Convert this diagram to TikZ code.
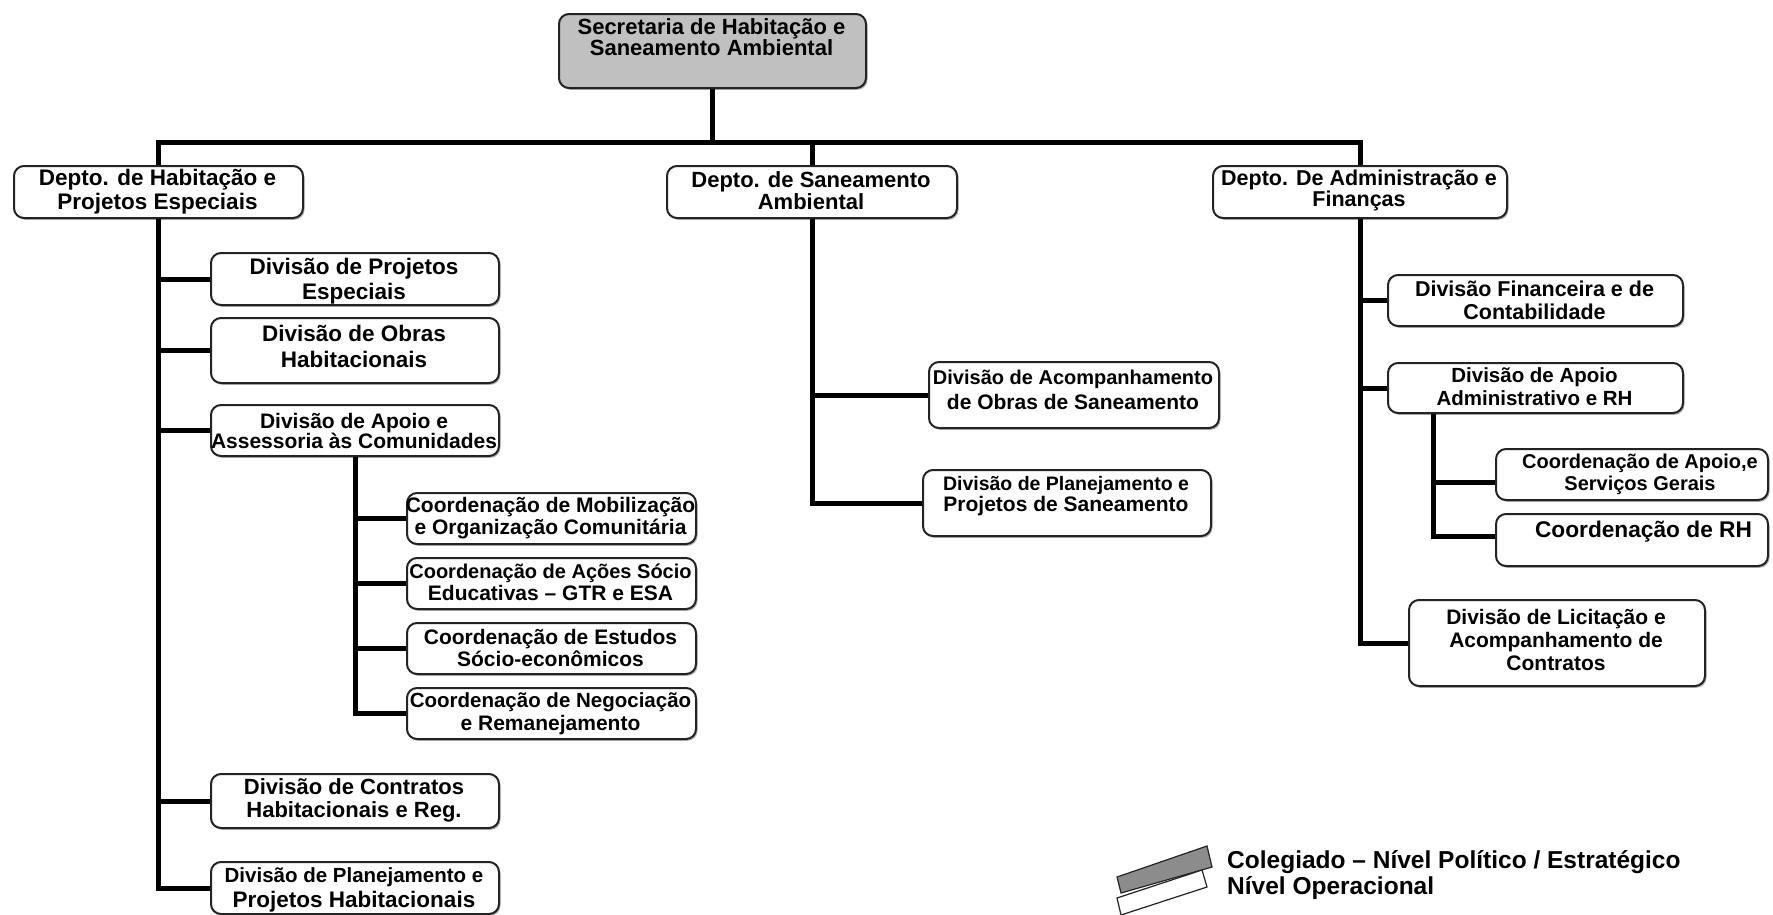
\documentclass[tikz,border=0pt]{standalone}
\usepackage{fontspec}
\setmainfont{Liberation Sans}
\usetikzlibrary{shadows,calc,backgrounds}
\definecolor{topgray}{RGB}{192,192,192}
\definecolor{leggray}{RGB}{140,140,140}
\definecolor{edgec}{RGB}{35,35,35}
\tikzset{
  box/.style={draw=edgec, line width=2pt, rounded corners=10pt, fill=white,
    inner sep=0pt, anchor=north west,
    drop shadow={shadow xshift=1.5pt, shadow yshift=-1.8pt, fill=black, opacity=0.3}},
  conn/.style={line width=5pt, draw=black},
  fs/.style 2 args={font=\bfseries\fontsize{#1}{#2}\selectfont},
  txt/.style={align=center, inner sep=0pt, text=black},
  legshape/.style={draw=edgec, line width=1.2pt},
}
\begin{document}
\begin{tikzpicture}[x=1pt, y=-1pt]
\useasboundingbox (0,0) rectangle (1773,914);

% ---------- boxes ----------
\node[box, fill=topgray, minimum width=307pt, minimum height=74pt] (top) at (558,13) {};
\node[txt, fs={22}{21}] (t-top) at (711.5,37.5) {Secretaria de Habitação e\\Saneamento Ambiental};

\node[box, minimum width=289pt, minimum height=52pt] (dh) at (13,165) {};
\node[txt, fs={22.5}{24}] (t-dh) at (157.5,192) {Depto. de Habitação e\\Projetos Especiais};

\node[box, minimum width=290pt, minimum height=52pt] (ds) at (666,165) {};
\node[txt, fs={22}{22}] (t-ds) at (811,191) {Depto. de Saneamento\\Ambiental};

\node[box, minimum width=294pt, minimum height=52pt] (dadm) at (1212,165) {};
\node[txt, fs={21.5}{20}] (t-dadm) at (1359,190) {Depto. De Administração e\\Finanças};

% Depto Habitação children
\node[box, minimum width=288pt, minimum height=52pt] (dp) at (210,252) {};
\node[txt, fs={22.5}{25}] (t-dp) at (354,281) {Divisão de Projetos\\Especiais};

\node[box, minimum width=288pt, minimum height=65pt] (dob) at (210,317) {};
\node[txt, fs={22.5}{26}] (t-dob) at (354,346) {Divisão de Obras\\Habitacionais};

\node[box, minimum width=288pt, minimum height=51pt] (dap) at (210,404) {};
\node[txt, fs={21}{20}] (t-dap) at (354,431) {Divisão de Apoio e\\Assessoria às Comunidades};

\node[box, minimum width=288pt, minimum height=54pt] (dc) at (210,773) {};
\node[txt, fs={22}{23}] (t-dc) at (354,800.5) {Divisão de Contratos\\Habitacionais e Reg.};

\node[box, minimum width=288pt, minimum height=52pt] (dpl) at (210,861) {};
\node[txt, fs={22.5}{25}] (t-dpl) at (354,889.5) {{\fontsize{20.5}{25}\selectfont Divisão de Planejamento e}\\Projetos Habitacionais};

% Coordenações (Apoio e Assessoria)
\node[box, minimum width=289pt, minimum height=51pt] (cm) at (406,492) {};
\node[txt, fs={21}{22}] (t-cm) at (550.5,518) {Coordenação de Mobilização\\e Organização Comunitária};

\node[box, minimum width=289pt, minimum height=51pt] (ca) at (406,557) {};
\node[txt, fs={20}{22}] (t-ca) at (550.5,582) {Coordenação de Ações Sócio\\{\fontsize{21}{22}\selectfont Educativas – GTR e ESA}};

\node[box, minimum width=289pt, minimum height=51pt] (ce) at (406,622) {};
\node[txt, fs={21}{22}] (t-ce) at (550.5,648) {Coordenação de Estudos\\Sócio-econômicos};

\node[box, minimum width=289pt, minimum height=51pt] (cn) at (406,687) {};
\node[txt, fs={20.5}{23}] (t-cn) at (550.5,713.5) {Coordenação de Negociação\\{\fontsize{21}{23}\selectfont e Remanejamento}};

% Depto Saneamento children
\node[box, minimum width=290pt, minimum height=66pt] (dac) at (928,361) {};
\node[txt, fs={21}{25}] (t-dac) at (1073,389.5) {{\fontsize{20}{25}\selectfont Divisão de Acompanhamento}\\de Obras de Saneamento};

\node[box, minimum width=288pt, minimum height=66pt] (dps) at (922,469) {};
\node[txt, fs={21}{19}] (t-dps) at (1066,496) {{\fontsize{19.5}{19}\selectfont Divisão de Planejamento e}\\Projetos de Saneamento};

% Depto Administração children
\node[box, minimum width=295pt, minimum height=51pt] (dfin) at (1387,274) {};
\node[txt, fs={21.5}{23}] (t-dfin) at (1534.5,300.5) {Divisão Financeira e de\\Contabilidade};

\node[box, minimum width=295pt, minimum height=50pt] (daa) at (1387,362) {};
\node[txt, fs={20.5}{23}] (t-daa) at (1534.5,386.5) {Divisão de Apoio\\Administrativo e RH};

\node[box, minimum width=272pt, minimum height=51pt] (cs) at (1495,448) {};
\node[txt, fs={20}{22}] (t-cs) at (1640,474) {Coordenação de Apoio,e\\Serviços Gerais};

\node[box, minimum width=272pt, minimum height=52pt] (crh) at (1495,513) {};
\node[txt, fs={22.7}{24}] (t-crh) at (1643.5,532) {Coordenação de RH};

\node[box, minimum width=296pt, minimum height=86pt] (dlic) at (1408,599) {};
\node[txt, fs={21}{23}] (t-dlic) at (1556,640) {Divisão de Licitação e\\Acompanhamento de\\Contratos};

% ---------- connectors ----------
\coordinate (busy) at (0,142);
\coordinate (daax) at (1433,0);
\begin{scope}[on background layer]
\draw[conn] (top.south) -- (top.south |- busy);
\draw[conn] (dh.north) |- (top.south |- busy);
\draw[conn] (dadm.north) |- (top.south |- busy);
\draw[conn] (ds.north) -- (ds.north |- busy);
\foreach \c in {dp,dob,dap,dc,dpl} \draw[conn] (dh.south) |- (\c.west);
\foreach \c in {cm,ca,ce,cn} \draw[conn] (dap.south) |- (\c.west);
\foreach \c in {dac,dps} \draw[conn] (ds.south) |- (\c.west);
\foreach \c in {dfin,daa,dlic} \draw[conn] (dadm.south) |- (\c.west);
\draw[conn] (daa.south -| daax) |- ($(cs.west)+(0,8)$);
\draw[conn] (daa.south -| daax) |- ($(crh.west)+(0,-4)$);
\end{scope}

% ---------- legend ----------
\draw[legshape, fill=leggray] (1117,877) -- (1207,846) -- (1212,867) -- (1121,893) -- cycle;
\draw[legshape, fill=white] (1117,898) -- (1202,870) -- (1207,887) -- (1121,915) -- cycle;
\node[anchor=west, align=left, inner sep=0pt, fs={24.5}{26}] (leg) at (1227,875)
  {Colegiado – Nível Político / Estratégico\\Nível Operacional};
\end{tikzpicture}
\end{document}
